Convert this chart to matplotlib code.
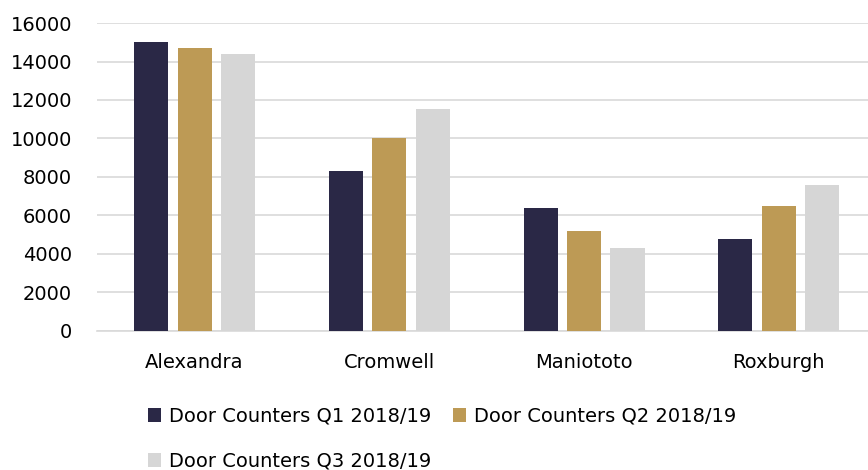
import numpy as np
import matplotlib.pyplot as plt

# library door counter totals
branches = ['Alexandra', 'Cromwell', 'Maniototo', 'Roxburgh']
q1 = [15000, 8300, 6400, 4800]
q2 = [14700, 10050, 5200, 6500]
q3 = [14400, 11550, 4300, 7600]
labels = ['Door Counters Q1 2018/19', 'Door Counters Q2 2018/19', 'Door Counters Q3 2018/19']
colors = ['#2a2846', '#bd9a55', '#d6d6d6']

plt.rcParams['font.family'] = ['DejaVu Sans']

fig = plt.figure(figsize=(8.68, 4.70), dpi=100)
ax = fig.add_axes([0.112, 0.296, 0.888, 0.655])

x = np.arange(len(branches))
w = 0.175
step = 0.223
bars = []
for i, (vals, lab, c) in enumerate(zip([q1, q2, q3], labels, colors)):
    bars.append(ax.bar(x + (i - 1) * step, vals, width=w, color=c, label=lab, zorder=3))

ax.set_xlim(-0.5, 3.458)
ax.set_ylim(0, 16000)
ax.set_yticks(range(0, 16001, 2000))
ax.set_xticks(x)
ax.set_xticklabels(branches)
ax.tick_params(axis='both', length=0, labelsize=14, colors='black')
ax.tick_params(axis='y', pad=18)
ax.tick_params(axis='x', pad=16)
ax.grid(axis='y', color='#d9d9d9', linewidth=1.2, zorder=0)
for s in ['top', 'right', 'left']:
    ax.spines[s].set_visible(False)
ax.spines['bottom'].set_color('#d9d9d9')
ax.spines['bottom'].set_linewidth(1.2)

# order so rows read Q1, Q2 / Q3
fig.legend([bars[0], bars[2], bars[1]], [labels[0], labels[2], labels[1]],
           loc='upper left', bbox_to_anchor=(0.17, 0.135), ncol=2, frameon=False,
           fontsize=14, handlelength=0.7, handleheight=0.7, handletextpad=0.4,
           columnspacing=1.1, labelspacing=1.35, borderaxespad=0, borderpad=0)

plt.savefig('out.png', dpi=100)
